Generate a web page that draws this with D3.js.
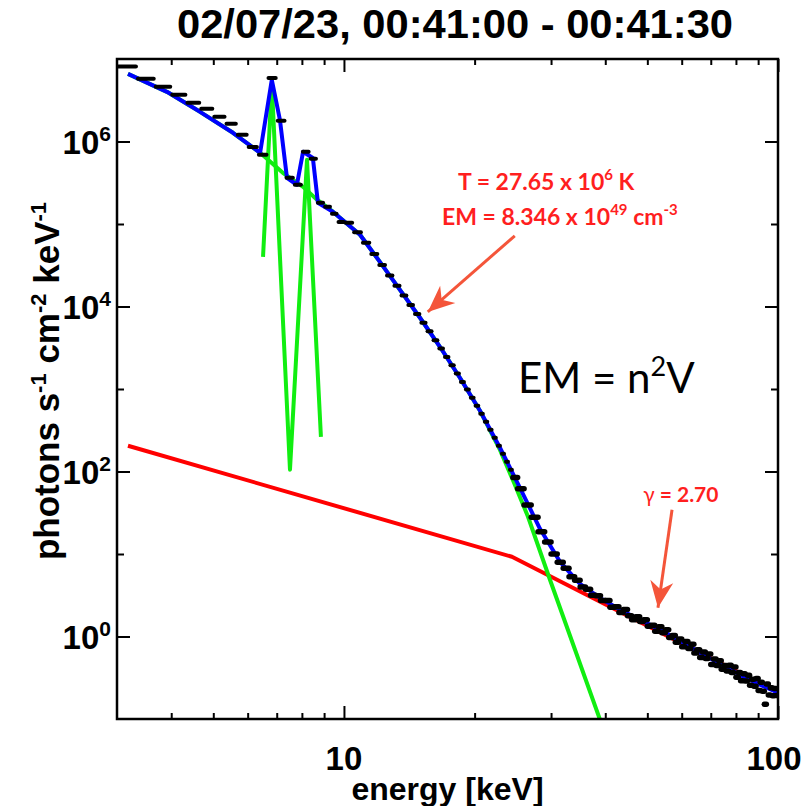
<!DOCTYPE html>
<html>
<head>
<meta charset="utf-8">
<script src="https://cdn.jsdelivr.net/npm/d3@7"></script>
<style>
  body { margin: 0; background: #fff; }
  svg { display: block; }
  text { font-family: "Liberation Sans", Arial, Helvetica, sans-serif; }
</style>
</head>
<body>
<svg width="808" height="806"></svg>
<script>
// ---- data ----

// observed spectrum: bin centres (keV) and flux (photons s-1 cm-2 keV-1)
const dataE = [
  3.17, 3.5, 3.83, 4.17, 4.5, 4.83, 5.17, 5.5, 5.83, 6.17, 6.5, 6.83, 7.17, 7.5, 7.83,
  8.17, 8.5, 8.83, 9.17, 9.5, 9.83,
  10.25, 10.75, 11.25, 11.75, 12.25, 12.75, 13.25, 13.75, 14.25, 14.75, 15.25, 15.75,
  16.25, 16.75, 17.25, 17.75, 18.25, 18.75, 19.25, 19.75, 20.25, 20.75, 21.25, 21.75,
  22.25, 22.75, 23.25, 23.75, 24.25, 24.75,
  25.5, 26.5, 27.5, 28.5, 29.5, 30.5, 31.5, 32.5, 33.5, 34.5, 35.5, 36.5, 37.5, 38.5,
  39.5, 40.5, 41.5, 42.5, 43.5, 44.5, 45.5, 46.5, 47.5, 48.5, 49.5, 50.5, 51.5, 52.5,
  53.5, 54.5, 55.5, 56.5, 57.5, 58.5, 59.5, 60.5, 61.5, 62.5, 63.5, 64.5, 65.5, 66.5,
  67.5, 68.5, 69.5, 70.5, 71.5, 72.5, 73.5, 74.5, 75.5, 76.5, 77.5, 78.5, 79.5, 80.5,
  81.5, 82.5, 83.5, 84.5, 85.5, 86.5, 87.5, 88.5, 89.5, 90.5, 91.5, 92.5, 93.5, 94.5,
  95.5, 96.5, 97.5, 98.5, 99.5
];
const dataF = [
  8.1e6, 5.75e6, 4.6e6, 3.68e6, 2.94e6, 2.49e6, 1.99e6, 1.64e6, 1.21e6, 8.6e5, 6.9e5,
  5.9e6, 1.78e6, 3.63e5, 2.99e5, 7.5e5, 6.2e5, 1.81e5, 1.62e5, 1.33e5, 1.06e5,
  1.034e5, 7.96e4, 5.92e4, 4.33e4, 3.18e4, 2.38e4, 1.79e4, 1.36e4, 1.046e4, 8.11e3,
  6.36e3, 5.02e3, 3.91e3, 3.09e3, 2.44e3, 1.94e3, 1.54e3, 1.22e3, 983, 784, 628, 502,
  400, 320, 256, 205, 164, 131, 105, 84.8,
  62.0, 39.3, 27.9, 18.6, 13.98, 9.97, 7.95, 6.73, 5.31, 4.81,
  3.98, 3.74, 3.17, 3.12, 2.73, 2.74, 2.27, 2.29, 1.96, 2.12,
  1.79, 1.60, 1.74, 1.52, 1.60, 1.33, 1.37, 1.16, 1.31, 1.11,
  1.21, 0.973, 1.03, 0.853, 0.935, 0.750, 0.867, 0.717, 0.807, 0.631,
  0.692, 0.558, 0.651, 0.541, 0.614, 0.458, 0.535, 0.446, 0.508, 0.401,
  0.444, 0.383, 0.448, 0.365, 0.428, 0.321, 0.366, 0.291, 0.353, 0.289,
  0.340, 0.257, 0.304, 0.249, 0.310, 0.222, 0.278, 0.217, 0.151, 0.265,
  0.196, 0.239, 0.192, 0.234, 0.193
];

// total fit (blue)
const totalFit = [
  [3.18, 6.6e6], [3.91, 4.0e6], [4.66, 2.29e6], [5.55, 1.275e6], [6.41, 7.3e5],
  [6.82, 5.6e6], [7.12, 1.83e6], [7.39, 3.63e5], [7.79, 2.99e5], [8.05, 7.5e5],
  [8.48, 6.3e5], [8.71, 1.81e5], [9.43, 1.41e5], [10.89, 7.4e4], [12.10, 3.48e4],
  [13.46, 1.59e4], [14.97, 7.3e3], [16.64, 3.25e3], [18.50, 1.37e3], [20.58, 544],
  [22.88, 194], [25.44, 63.4], [28.29, 20.2], [31.46, 8.04], [34.98, 4.35],
  [38.90, 2.94], [43.25, 2.11], [48.09, 1.59], [53.47, 1.21], [59.46, 0.887],
  [66.12, 0.634], [73.5, 0.467], [81.7, 0.343], [90.9, 0.260], [100, 0.208]
];

// thermal continuum (green)
const thermalCont = [
  [3.18, 6.6e6], [3.91, 4.0e6], [4.66, 2.29e6], [5.55, 1.275e6], [6.41, 7.3e5],
  [7.23, 4.17e5], [8.05, 2.82e5], [8.67, 1.97e5], [9.43, 1.41e5], [10.89, 7.4e4],
  [12.10, 3.48e4], [13.46, 1.59e4], [14.97, 7.3e3], [16.64, 3.25e3], [18.50, 1.37e3],
  [20.58, 544], [22.88, 183], [24.65, 73], [26.55, 28.3], [29.83, 4.87],
  [34.07, 0.69], [38.9, 0.098], [39.7, 0.070]
];

// thermal line complexes (green)
const thermalLines = [[6.51, 4.0e4], [6.82, 5.0e6], [7.51, 105], [8.22, 6.0e5], [8.85, 263]];

// non-thermal broken power law (red)
const nonThermal = [[3.18, 205], [24.38, 9.25], [100, 0.21]];

// ticks
const xMajor = [10, 100];
const xMinor = [4, 5, 6, 7, 8, 9, 20, 30, 40, 50, 60, 70, 80, 90];
const yMajor = [1, 1e2, 1e4, 1e6];
const yMinor = [1e1, 1e3, 1e5];

// ---- chart ----
const svg = d3.select("svg");
const x0 = 117, x1 = 778, y0 = 59, y1 = 719;

const x = d3.scaleLog().domain([3, 100]).range([x0, x1]);
const y = d3.scaleLog().domain([0.1, 1e7]).range([y1, y0]);

svg.append("clipPath").attr("id", "plot")
  .append("rect").attr("x", x0).attr("y", y0).attr("width", x1 - x0).attr("height", y1 - y0);

const line = d3.line().x(d => x(d[0])).y(d => y(d[1]));
const g = svg.append("g").attr("clip-path", "url(#plot)");

const curve = (data, col) => g.append("path").datum(data).attr("d", line)
  .attr("fill", "none").attr("stroke", col).attr("stroke-width", 4).attr("stroke-linejoin", "round");
curve(nonThermal, "#ff0000");
curve(thermalCont, "#11ee11");
curve(thermalLines, "#11ee11");
curve(totalFit, "#0000ff");

// data points as energy-bin bars (the fine high-energy bins merge into a band)
const bins = dataE.map((e, i) => {
  const prev = i > 0 ? dataE[i - 1] : e - (dataE[1] - dataE[0]);
  const next = i < dataE.length - 1 ? dataE[i + 1] : e + (e - dataE[i - 1]);
  return { lo: (e + prev) / 2, hi: (e + next) / 2, f: dataF[i] };
});
g.selectAll("line.bin")
  .data(bins)
  .enter().append("line")
    .attr("class", "bin")
    .attr("x1", d => x(d.lo) + (d.lo > 24 ? 0 : 1))
    .attr("x2", d => x(d.hi) - (d.lo > 24 ? 0 : 1))
    .attr("y1", d => y(d.f))
    .attr("y2", d => y(d.f))
    .attr("stroke", "#000")
    .attr("stroke-width", d => d.lo > 24 ? 5.5 : 4)
    .attr("stroke-linecap", "round");

// axes: ticks inward on all four sides
const tickAxis = (axis, vals, size) => axis.tickValues(vals).tickSize(size).tickFormat("").tickSizeOuter(0);
const drawAxis = (gen, tr) => {
  const a = svg.append("g").attr("transform", tr).call(gen);
  a.select(".domain").remove();
  a.selectAll("line").attr("stroke", "#000").attr("stroke-width", 2);
};
drawAxis(tickAxis(d3.axisBottom(x), xMajor, -13), `translate(0,${y1})`);
drawAxis(tickAxis(d3.axisBottom(x), xMinor, -6), `translate(0,${y1})`);
drawAxis(tickAxis(d3.axisTop(x), xMajor, -13), `translate(0,${y0})`);
drawAxis(tickAxis(d3.axisTop(x), xMinor, -6), `translate(0,${y0})`);
drawAxis(tickAxis(d3.axisLeft(y), yMajor, -13), `translate(${x0},0)`);
drawAxis(tickAxis(d3.axisLeft(y), yMinor, -7), `translate(${x0},0)`);
drawAxis(tickAxis(d3.axisRight(y), yMajor, -13), `translate(${x1},0)`);
drawAxis(tickAxis(d3.axisRight(y), yMinor, -7), `translate(${x1},0)`);

svg.append("rect")
  .attr("x", x0).attr("y", y0).attr("width", x1 - x0).attr("height", y1 - y0)
  .attr("fill", "none").attr("stroke", "#000").attr("stroke-width", 2.5);

// tick labels
xMajor.forEach(v => {
  svg.append("text")
    .attr("x", x(v) - (v === 100 ? 4 : 0)).attr("y", 770)
    .attr("text-anchor", "middle")
    .style("font-size", "33px").style("font-weight", "bold")
    .text(v);
});
yMajor.forEach(v => {
  const t = svg.append("text")
    .attr("x", 111).attr("y", y(v) + 12)
    .attr("text-anchor", "end")
    .style("font-size", "33px").style("font-weight", "bold");
  t.append("tspan").text("10");
  t.append("tspan").attr("dy", -13).style("font-size", "21px").text(Math.round(Math.log10(v)));
});

// titles
svg.append("text")
  .attr("x", 455).attr("y", 38)
  .attr("text-anchor", "middle")
  .attr("textLength", 556).attr("lengthAdjust", "spacingAndGlyphs")
  .style("font-size", "40px").style("font-weight", "bold")
  .text("02/07/23, 00:41:00 - 00:41:30");

svg.append("text")
  .attr("x", (x0 + x1) / 2).attr("y", 800)
  .attr("text-anchor", "middle")
  .style("font-size", "32px").style("font-weight", "bold")
  .text("energy [keV]");

const yl = svg.append("text")
  .attr("transform", "translate(59,381) rotate(-90)")
  .attr("text-anchor", "middle")
  .style("font-size", "35px").style("font-weight", "bold");
[["photons s", 0], ["-1", 1], [" cm", 0], ["-2", 1], [" keV", 0], ["-1", 1]].forEach(([s, sup], i, arr) => {
  const prevSup = i > 0 && arr[i - 1][1];
  yl.append("tspan")
    .attr("dy", sup ? -13 : (prevSup ? 13 : 0))
    .style("font-size", sup ? "22px" : "35px")
    .text(s);
});

// annotations (anchored in data units)
const red = "#ff1f1f", arrowCol = "#f4553a";
svg.append("defs").append("marker")
  .attr("id", "head").attr("markerUnits", "userSpaceOnUse")
  .attr("markerWidth", 30).attr("markerHeight", 30)
  .attr("refX", 0).attr("refY", 0).attr("viewBox", "-24 -12 26 24")
  .attr("orient", "auto")
  .append("path").attr("d", "M0,0 L-23,-10 L-16,0 L-23,10 Z").attr("fill", arrowCol);

const arrows = [[[24.75, 7.2e4], [15.6, 8.6e3]], [[57.0, 34.3], [52.9, 2.23]]];
arrows.forEach(([a, b]) => {
  svg.append("line")
    .attr("x1", x(a[0])).attr("y1", y(a[1]))
    .attr("x2", x(b[0])).attr("y2", y(b[1]))
    .attr("stroke", arrowCol).attr("stroke-width", 3)
    .attr("marker-end", "url(#head)");
});

const anno = (E, F, size) => svg.append("text")
  .attr("x", x(E)).attr("y", y(F))
  .style("font-family", "Lato, 'Open Sans', sans-serif")
  .style("font-size", size + "px");

const tT = anno(18.31, 2.6e5, 23).style("font-weight", "bold").attr("fill", red);
tT.append("tspan").text("T = 27.65 x 10");
tT.append("tspan").attr("dy", -10).style("font-size", "15px").text("6");
tT.append("tspan").attr("dy", 10).text("  K");

const tEM = anno(16.82, 9.78e4, 23).style("font-weight", "bold").attr("fill", red);
tEM.append("tspan").text("EM = 8.346 x 10");
tEM.append("tspan").attr("dy", -10).style("font-size", "15px").text("49");
tEM.append("tspan").attr("dy", 10).text(" cm");
tEM.append("tspan").attr("dy", -10).style("font-size", "15px").text("-3");

const tG = anno(48.9, 42.9, 21).attr("fill", red);
tG.append("tspan").style("font-weight", "normal").text("\u03b3");
tG.append("tspan").style("font-weight", "bold").text(" = 2.70");

const tN = anno(25.17, 899, 42).attr("fill", "#000");
tN.append("tspan").text("EM = n");
tN.append("tspan").attr("dy", -17).style("font-size", "27px").text("2");
tN.append("tspan").attr("dy", 17).text("V");
</script>
</body>
</html>
